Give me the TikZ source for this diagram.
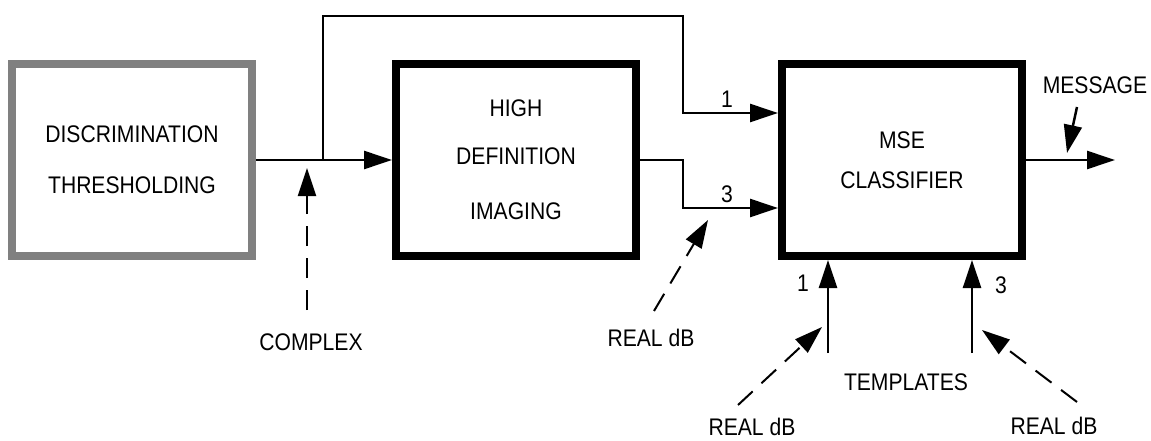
\documentclass[tikz,border=0pt]{standalone}
\usepackage{fontspec}
\setmainfont{Liberation Sans}[FakeStretch=0.88]
\usetikzlibrary{arrows.meta}
\tikzset{
  txt/.style={font=\fontsize{24}{28}\selectfont, inner sep=0pt},
  blockbox/.style={draw, line width=8pt, minimum width=240pt, minimum height=192pt, align=center, txt},
  graybox/.style={blockbox, draw={rgb,255:red,128;green,128;blue,128}},
  conn/.style={line width=2.5pt},
  arr/.style={conn, -{Triangle[length=28pt,width=18pt]}},
  dasharr/.style={line width=2pt, dash pattern=on 20pt off 12pt, -{Triangle[length=28pt,width=18pt]}},
}
\begin{document}
\begin{tikzpicture}[x=1pt, y=-1pt]
\useasboundingbox (0,0) rectangle (1151,441);
% blocks
\node[graybox] (disc) at (132,160) {DISCRIMINATION\\[23pt]THRESHOLDING};
\node[blockbox] (hdi) at (516,160) {HIGH\\[20pt]DEFINITION\\[27pt]IMAGING};
\node[blockbox] (mse) at (902,160) {MSE\\[12pt]CLASSIFIER};
% coordinates
\coordinate (br) at (323,160);
\coordinate (j1) at (683,16);
\coordinate (in1) at (683,113);
\coordinate (j3) at (683,160);
\coordinate (in3) at (683,208);
\coordinate (out) at (1115,160);
\coordinate (t1) at (828,353);
\coordinate (t3) at (972,353);
\coordinate (cxtail) at (307,310);
\coordinate (cxtip) at (307,168);
\coordinate (rmtail) at (654,311);
\coordinate (rmtip) at (708,220);
\coordinate (rltail) at (738,405);
\coordinate (rltip) at (822,327);
\coordinate (rrtail) at (1077,402);
\coordinate (rrtip) at (982,330);
\coordinate (mtail) at (1077,107);
\coordinate (mtip) at (1067,153);
% connectors
\draw[arr] (disc.east) -- (hdi.west);
\draw[arr] (br) |- (j1) -- (in1) -- (in1 -| mse.west);
\draw[arr] (hdi.east) -- (j3) -- (in3) -- (in3 -| mse.west);
\draw[arr] (mse.east) -- (out);
\draw[arr] (t1) -- (t1 |- mse.south);
\draw[arr] (t3) -- (t3 |- mse.south);
\draw[arr] (mtail) -- (mtip);
\draw[dasharr] (cxtail) -- (cxtip);
\draw[dasharr] (rmtail) -- (rmtip);
\draw[dasharr] (rltail) -- (rltip);
\draw[dasharr] (rrtail) -- (rrtip);
% labels
\node[txt] (l1) at (727,99) {1};
\node[txt] (l3) at (727,194) {3};
\node[txt] (lt1) at (803,283) {1};
\node[txt] (lt3) at (1001,285) {3};
\node[txt] (complex) at (311,342) {COMPLEX};
\node[txt] (realm) at (651,338) {REAL dB};
\node[txt] (reall) at (752,427) {REAL dB};
\node[txt] (realr) at (1054,426) {REAL dB};
\node[txt] (templ) at (906,382) {TEMPLATES};
\node[txt] (msg) at (1095,85) {MESSAGE};
\end{tikzpicture}
\end{document}
